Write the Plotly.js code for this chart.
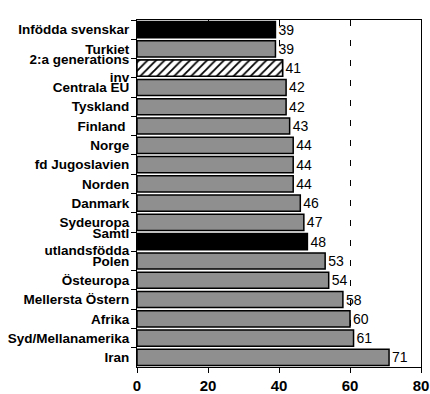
<!DOCTYPE html>
<html>
<head>
<meta charset="utf-8">
<script src="https://cdn.plot.ly/plotly-3.0.1.min.js"></script>
<style>html,body{margin:0;padding:0;background:#fff;}#chart{width:430px;height:394px;}</style>
</head>
<body>
<div id="chart"></div>
<script>
const categories = ["Infödda svenskar", "Turkiet", "2:a generations<br>inv", "Centrala EU", "Tyskland", "Finland ", "Norge", "fd Jugoslavien", "Norden", "Danmark", "Sydeuropa", "Samtl<br>utlandsfödda", "Polen", "Östeuropa", "Mellersta Östern", "Afrika", "Syd/Mellanamerika", "Iran"];
const values = [39, 39, 41, 42, 42, 43, 44, 44, 44, 46, 47, 48, 53, 54, 58, 60, 61, 71];
const groups = ["native", "country", "second", "country", "country", "country", "country", "country", "country", "country", "country", "allforeign", "country", "country", "country", "country", "country", "country"];
const xTicks = [0, 20, 40, 60, 80];

const fillFor = {native: "#000000", allforeign: "#000000", second: "#ffffff", country: "#8f8f8f"};
const colors = groups.map(g => fillFor[g]);

const hatchIdx = groups.map((g, i) => g === "second" ? i : -1).filter(i => i >= 0);

const trace = {
  type: "bar",
  orientation: "h",
  y: categories,
  x: values,
  text: values.map(String),
  textposition: "outside",
  cliponaxis: false,
  textfont: {family: "Arial, Liberation Sans, sans-serif", size: 14, color: "#000"},
  marker: {color: colors, line: {color: "#000", width: 1.5}},
  hoverinfo: "none"
};

const hatch = {
  type: "bar",
  orientation: "h",
  y: hatchIdx.map(i => categories[i]),
  x: hatchIdx.map(i => values[i]),
  marker: {
    color: "#ffffff",
    line: {color: "#000", width: 1.5},
    pattern: {shape: "/", fgcolor: "#000", bgcolor: "#fff", size: 6, solidity: 0.3, fillmode: "replace"}
  },
  hoverinfo: "none"
};

const layout = {
  width: 430, height: 394,
  margin: {l: 137, r: 9, t: 20, b: 27},
  paper_bgcolor: "#fff", plot_bgcolor: "#fff",
  showlegend: false,
  barmode: "overlay",
  bargap: 0.16,
  font: {family: "Arial, Liberation Sans, sans-serif", color: "#000"},
  xaxis: {
    range: [0, 80],
    tickvals: xTicks,
    ticktext: xTicks.map(String),
    tickfont: {size: 15, weight: "bold"},
    ticks: "outside", ticklen: 5, tickcolor: "#000",
    showline: true, linecolor: "#000", linewidth: 1, mirror: true,
    showgrid: true, gridcolor: "#000", gridwidth: 1, griddash: "6px,14px",
    zeroline: false, fixedrange: true
  },
  yaxis: {
    type: "category",
    autorange: "reversed",
    tickson: "boundaries",
    ticks: "outside", ticklen: 5, tickcolor: "#000",
    ticklabelstandoff: 4,
    tickfont: {size: 13.5, weight: "bold"},
    showline: true, linecolor: "#000", linewidth: 1, mirror: true,
    showgrid: false, zeroline: false, fixedrange: true
  }
};

Plotly.newPlot("chart", [trace, hatch], layout, {staticPlot: true, displayModeBar: false});
</script>
</body>
</html>
